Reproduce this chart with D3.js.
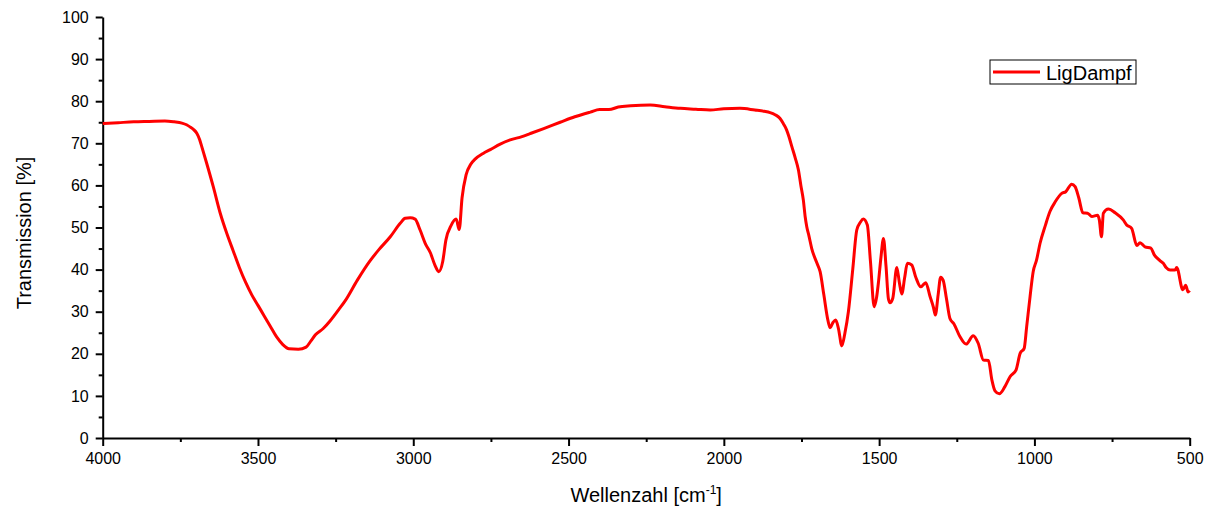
<!DOCTYPE html>
<html>
<head>
<meta charset="utf-8">
<script src="https://cdn.jsdelivr.net/npm/d3@7"></script>
<style>
  body { margin: 0; background: #fff; }
  text { font-family: "Liberation Sans", Arial, sans-serif; }
</style>
</head>
<body>
<svg width="1211" height="513"></svg>
<script>
// wavenumber [cm-1]
var wavenumbers = [4000, 3950, 3900, 3850, 3800, 3770, 3745, 3730, 3719, 3708, 3697, 3688, 3681, 3665, 3644, 3622, 3600, 3580, 3560, 3540, 3520, 3500, 3480, 3460, 3440, 3420, 3400, 3370, 3345, 3330, 3315, 3290, 3268, 3240, 3220, 3180, 3140, 3110, 3074, 3042, 3026, 3010, 2994, 2978, 2960, 2945, 2930, 2918, 2905, 2895, 2878, 2862, 2852, 2843, 2830, 2815, 2800, 2775, 2752, 2720, 2688, 2650, 2624, 2580, 2527, 2480, 2430, 2400, 2370, 2340, 2300, 2237, 2190, 2140, 2090, 2044, 2000, 1948, 1900, 1870, 1851, 1835, 1819, 1808, 1798, 1790, 1781, 1770, 1760, 1752, 1744, 1738, 1733, 1726, 1717, 1700, 1690, 1678, 1665, 1658, 1648, 1640, 1631, 1620, 1610, 1599, 1585, 1572, 1560, 1551, 1538, 1528, 1516, 1508, 1502, 1494, 1486, 1478, 1470, 1465, 1456, 1443, 1435, 1427, 1418, 1409, 1395, 1382, 1366, 1350, 1336, 1325, 1319, 1310, 1302, 1294, 1283, 1272, 1259, 1240, 1220, 1197, 1181, 1164, 1148, 1137, 1127, 1113, 1095, 1078, 1059, 1046, 1033, 1025, 1014, 1004, 993, 982, 966, 950, 933, 912, 899, 880, 869, 857, 844, 829, 815, 797, 791, 784, 778, 762, 740, 714, 703, 687, 670, 660, 644, 625, 614, 595, 585, 576, 563, 547, 542, 522, 513, 505, 500];
// transmission [%] for LigDampf
var ligDampf = [74.7, 74.9, 75.1, 75.2, 75.3, 75.1, 74.8, 74.4, 73.9, 73.3, 72.4, 70.9, 69.2, 65.2, 59.7, 53.5, 48.5, 44.5, 40.5, 37, 34, 31.5, 29, 26.5, 24, 22.2, 21.2, 21.1, 21.6, 23, 24.5, 26, 27.8, 30.5, 32.5, 37.5, 42, 44.8, 47.8, 51, 52.2, 52.3, 52, 49.4, 46, 44, 41, 39.5, 42, 47, 50.5, 52, 49.5, 57, 62.5, 65, 66.3, 67.6, 68.5, 69.8, 70.8, 71.6, 72.3, 73.5, 75, 76.3, 77.4, 78, 78, 78.6, 78.9, 79.1, 78.7, 78.3, 78.1, 77.9, 78.2, 78.3, 77.9, 77.6, 77.3, 76.8, 75.9, 74.6, 73.2, 71.5, 69.2, 66.5, 63.7, 60, 56.5, 52.5, 50.2, 48, 45, 41.5, 39.5, 34, 28, 26.2, 27.5, 28, 26, 21.9, 25, 30, 40, 49.4, 51.3, 52, 50.6, 42, 31.2, 33.5, 37.1, 43, 47.4, 41, 33, 32.1, 33.2, 40.5, 37, 34.2, 38, 41.5, 41.1, 38.2, 35.9, 36.9, 33.6, 31, 29.2, 34, 38.2, 37.5, 33, 28.4, 27.1, 24.1, 22.3, 24.3, 22.5, 18.5, 18.4, 13.8, 11.2, 10.5, 12.2, 14.6, 16.2, 20.1, 21.3, 26.4, 33.6, 39.5, 42.3, 46.2, 50.2, 53.8, 56.1, 58.1, 58.5, 60.3, 59.7, 57, 53.5, 53.4, 52.6, 52.9, 51.8, 47.8, 53.4, 54.4, 53.5, 51.8, 50.6, 49.8, 45.7, 46.4, 45.4, 45.1, 43.5, 42.1, 41.5, 40.5, 39.9, 39.9, 40.5, 35.2, 36.3, 34.7, 35];

var xTicks = [4000, 3500, 3000, 2500, 2000, 1500, 1000, 500];
var xMinor = [3750, 3250, 2750, 2250, 1750, 1250, 750];
var yTicks = [0, 10, 20, 30, 40, 50, 60, 70, 80, 90, 100];
var yMinor = [5, 15, 25, 35, 45, 55, 65, 75, 85, 95];
var seriesName = 'LigDampf';

var svg = d3.select('svg'),
  margin = {top: 17, right: 21.3, bottom: 75, left: 102.7},
  width = +svg.attr('width') - margin.left - margin.right,
  height = +svg.attr('height') - margin.top - margin.bottom,
  g = svg.append('g')
    .attr('transform', 'translate(' + margin.left + ',' + margin.top + ')');

var x = d3.scaleLinear().domain([4000, 500]).range([0, width]);
var y = d3.scaleLinear().domain([0, 100]).range([height, 0]);

// minor ticks first, majors on top
g.append('g')
  .attr('transform', 'translate(0,' + height + ')')
  .call(d3.axisBottom(x).tickValues(xMinor).tickSize(4).tickFormat(''))
  .call(function(a) { a.select('.domain').remove(); a.selectAll('line').attr('stroke-width', 2); });

g.append('g')
  .call(d3.axisLeft(y).tickValues(yMinor).tickSize(4).tickFormat(''))
  .call(function(a) { a.select('.domain').remove(); a.selectAll('line').attr('stroke-width', 2); });

var xAxis = g.append('g')
  .attr('transform', 'translate(0,' + height + ')')
  .call(d3.axisBottom(x).tickValues(xTicks).tickSize(8).tickSizeOuter(0).tickPadding(7).tickFormat(d3.format('d')));
xAxis.select('.domain').attr('stroke-width', 2);
xAxis.selectAll('line').attr('stroke-width', 2);
xAxis.selectAll('text').attr('font-size', 16).attr('fill', '#000')
  .style('font-family', '"Liberation Sans", Arial, sans-serif');

var yAxis = g.append('g')
  .call(d3.axisLeft(y).tickValues(yTicks).tickSize(7).tickSizeOuter(0).tickPadding(7));
yAxis.select('.domain').attr('stroke-width', 2);
yAxis.selectAll('line').attr('stroke-width', 2);
yAxis.selectAll('text').attr('font-size', 16).attr('fill', '#000')
  .style('font-family', '"Liberation Sans", Arial, sans-serif');

// the spectrum
var line = d3.line()
  .x(function(d, i) { return x(wavenumbers[i]); })
  .y(function(d) { return y(d); })
  .curve(d3.curveMonotoneX);

g.append('path')
  .datum(ligDampf)
  .attr('fill', 'none')
  .attr('stroke', '#ff0000')
  .attr('stroke-width', 3)
  .attr('stroke-linejoin', 'round')
  .attr('d', line);

// axis titles
var xt = svg.append('text')
  .attr('x', margin.left + width / 2)
  .attr('y', 501.5)
  .attr('text-anchor', 'middle')
  .attr('font-size', 20)
  .attr('fill', '#000');
xt.append('tspan').text('Wellenzahl [cm');
xt.append('tspan').attr('dy', -8).attr('font-size', 12).text('-1');
xt.append('tspan').attr('dy', 8).text(']');

svg.append('text')
  .attr('transform', 'translate(30.5,' + 233 + ') rotate(-90)')
  .attr('text-anchor', 'middle')
  .attr('font-size', 20)
  .attr('fill', '#000')
  .text('Transmission [%]');

// legend
var legend = svg.append('g').attr('transform', 'translate(990,60)');
legend.append('rect')
  .attr('width', 146).attr('height', 24)
  .attr('fill', '#fff').attr('stroke', '#000').attr('stroke-width', 1);
legend.append('line')
  .attr('x1', 3).attr('x2', 50).attr('y1', 12).attr('y2', 12)
  .attr('stroke', '#ff0000').attr('stroke-width', 3);
legend.append('text')
  .attr('x', 56).attr('y', 19.5)
  .attr('font-size', 20)
  .attr('fill', '#000')
  .text(seriesName);
</script>
</body>
</html>
